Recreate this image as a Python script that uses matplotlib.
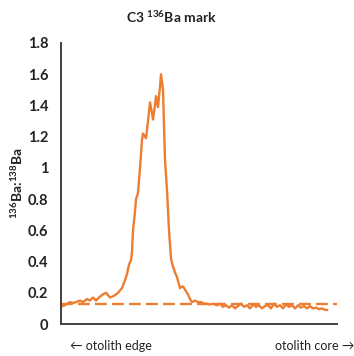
import matplotlib
matplotlib.use("Agg")
import matplotlib.pyplot as plt

plt.rcParams['font.family'] = ['Lato', 'DejaVu Sans']
plt.rcParams['mathtext.fontset'] = 'custom'
plt.rcParams['mathtext.rm'] = 'Lato'
plt.rcParams['mathtext.bf'] = 'Lato:bold'
plt.rcParams['mathtext.it'] = 'Lato:italic'

# distance along transect (arbitrary units, edge -> core)
position = [0, 2, 4, 6, 9, 12, 15, 19, 22, 26, 29, 32, 35, 38, 42, 45, 49, 53, 57, 61,
            64, 66, 68, 70, 71, 72, 74, 75, 77, 79, 81, 82, 84, 85, 87, 89, 91, 92, 94, 95,
            97, 99, 100, 102, 104, 106, 108, 110, 111, 112, 114, 116, 119, 121, 122, 125, 127,
            129, 131, 134, 137, 140, 143, 146, 149, 152, 156, 159, 162, 165, 168, 171, 174,
            177, 180, 183, 186, 189, 192, 195, 198, 201, 204, 207, 210, 213, 216, 219, 222,
            225, 228, 231, 234, 237, 240, 243, 246, 249, 252, 255, 258, 261, 264, 266]
ratio = [0.12, 0.115, 0.12, 0.13, 0.14, 0.135, 0.14, 0.15, 0.14, 0.16, 0.15, 0.17, 0.15, 0.17,
         0.19, 0.20, 0.17, 0.18, 0.20, 0.23, 0.28, 0.32, 0.38, 0.41, 0.46, 0.60, 0.72, 0.80,
         0.84, 1.00, 1.18, 1.22, 1.20, 1.19, 1.30, 1.42, 1.35, 1.31, 1.40, 1.46, 1.39, 1.52,
         1.60, 1.50, 1.05, 0.86, 0.60, 0.42, 0.39, 0.37, 0.33, 0.30, 0.23, 0.24, 0.24, 0.21,
         0.19, 0.16, 0.14, 0.15, 0.14, 0.14, 0.13, 0.13, 0.125, 0.13, 0.12, 0.13, 0.11, 0.12,
         0.105, 0.12, 0.10, 0.115, 0.13, 0.11, 0.12, 0.10, 0.125, 0.11, 0.12, 0.10, 0.115,
         0.12, 0.10, 0.13, 0.11, 0.12, 0.10, 0.125, 0.11, 0.12, 0.10, 0.12, 0.105, 0.115,
         0.10, 0.115, 0.10, 0.105, 0.095, 0.10, 0.09, 0.09]
baseline = 0.128
x_range = [0, 276]
y_ticks = [0, 0.2, 0.4, 0.6, 0.8, 1.0, 1.2, 1.4, 1.6, 1.8]
y_ticklabels = ['0', '0.2', '0.4', '0.6', '0.8', '1', '1.2', '1.4', '1.6', '1.8']

orange = '#ED7D31'
fig = plt.figure(figsize=(3.54, 3.56), dpi=100)
ax = fig.add_axes([61/354, 1-324/356, 276/354, 281/356])
ax.plot(position, ratio, color=orange, lw=1.7, solid_joinstyle='round')
ax.plot(x_range, [baseline, baseline], color=orange, lw=1.7, dashes=(5, 2.2))
ax.set_xlim(x_range)
ax.set_ylim(0, 1.8)
ax.set_yticks(y_ticks)
ax.set_yticklabels(y_ticklabels, fontsize=10.5, fontweight='bold', color='#222222')
ax.set_xticks([])
ax.tick_params(axis='y', length=0, pad=9)
for s in ['top', 'right']:
    ax.spines[s].set_visible(False)
for s in ['left', 'bottom']:
    ax.spines[s].set_color('#404040')
    ax.spines[s].set_linewidth(1.4)
ax.set_ylabel(r'$^{\mathbf{136}}$Ba:$^{\mathbf{138}}$Ba', fontsize=10, fontweight='bold',
              color='#222222', labelpad=2)
fig.text(171/354, 1-17/356, r'C3 $^{\mathbf{136}}$Ba mark', ha='center', va='center',
         fontsize=10, fontweight='bold', color='#222222')
fig.text(70/354, 1-346/356, '← otolith edge', ha='left', va='center', fontsize=9,
         color='#222222', family=['Lato', 'DejaVu Sans'])
fig.text(354/354, 1-346/356, 'otolith core →', ha='right', va='center', fontsize=9,
         color='#222222', family=['Lato', 'DejaVu Sans'])
fig.savefig('out.png', dpi=100)
